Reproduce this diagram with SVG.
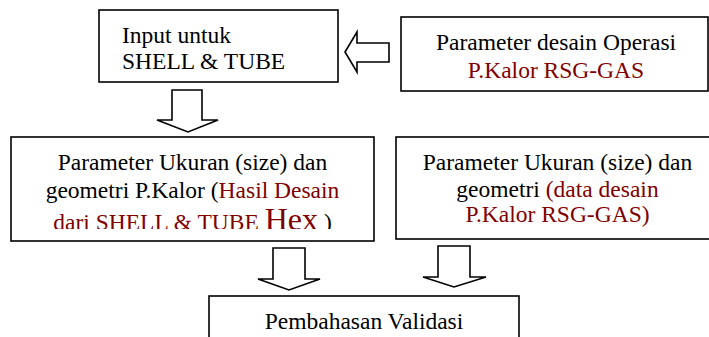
<svg xmlns="http://www.w3.org/2000/svg" width="709" height="337" viewBox="0 0 709 337">
<style>
.box{fill:#fff;stroke:#000;stroke-width:1.6}
.arr{fill:#fff;stroke:#000;stroke-width:1.6;stroke-linejoin:miter}
.t{font-family:'Liberation Serif','Times New Roman',Times,serif;font-size:23.5px;fill:#000}
.r{fill:#800000}
</style>
<defs>
<clipPath id="clip3"><rect x="0" y="130" width="400" height="99"/></clipPath>
</defs>
<rect width="709" height="337" fill="#fff"/>
<g id="connectors">
<polygon class="arr" points="345,52 357,32 357,43 389,43 389,62 357,62 357,72"/>
<polygon class="arr" points="172,90 202,90 202,120 218,120 188,132 157,120 172,120"/>
<polygon class="arr" points="273,248 305,248 305,279 320,279 289,290 258,279 273,279"/>
<polygon class="arr" points="438,246 470,246 470,277 486,277 454,287 423,277 438,277"/>
</g>
<g id="input">
<rect class="box" x="99" y="10" width="239" height="72"/>
<text class="t" x="122" y="43">Input untuk</text>
<text class="t" x="122" y="69">SHELL &amp; TUBE</text>
</g>
<g id="param-operasi">
<rect class="box" x="401" y="17" width="307" height="74"/>
<text class="t" x="556" y="50" text-anchor="middle">Parameter desain Operasi</text>
<text class="t r" x="556" y="78" text-anchor="middle">P.Kalor RSG-GAS</text>
</g>
<g id="hasil-desain">
<rect class="box" x="11" y="137" width="363" height="104"/>
<text class="t" x="192.5" y="170" text-anchor="middle">Parameter Ukuran (size) dan</text>
<text class="t" x="192.5" y="198" text-anchor="middle">geometri P.Kalor (<tspan class="r">Hasil Desain</tspan></text>
<g clip-path="url(#clip3)">
<text class="t" x="192.5" y="230" text-anchor="middle"><tspan class="r">dari SHELL &amp; TUBE </tspan><tspan class="r" style="font-size:32px">Hex</tspan> )</text>
</g>
</g>
<g id="data-desain">
<rect class="box" x="396" y="137" width="320" height="102"/>
<text class="t" x="557.5" y="170" text-anchor="middle">Parameter Ukuran (size) dan</text>
<text class="t" x="557.5" y="197" text-anchor="middle">geometri <tspan class="r">(data desain</tspan></text>
<text class="t r" x="557.5" y="222" text-anchor="middle">P.Kalor RSG-GAS)</text>
</g>
<g id="validasi">
<rect class="box" x="209" y="296" width="310" height="60"/>
<text class="t" x="364" y="329" text-anchor="middle">Pembahasan Validasi</text>
</g>
</svg>
